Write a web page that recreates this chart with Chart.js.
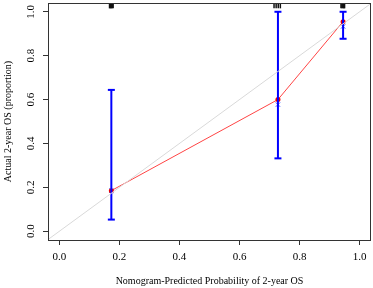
<!DOCTYPE html>
<html>
<head>
<meta charset="utf-8">
<script src="https://cdn.jsdelivr.net/npm/chart.js@4.4.0/dist/chart.umd.min.js"></script>
<style>
  html, body { margin: 0; padding: 0; background: #fff; overflow: hidden; }
  canvas { display: block; }
</style>
</head>
<body>
<canvas id="cal" width="373" height="288"></canvas>
<script>
// calibration data
const meanPredicted = [0.173, 0.728, 0.945];
const observed = [0.185, 0.600, 0.955];
const corrected = [0.185, 0.577, 0.933];
const ciLower = [0.053, 0.332, 0.877];
const ciUpper = [0.644, 1.000, 1.000];
// rug of predicted values along the top
const rugX = [0.167, 0.170, 0.173, 0.176, 0.179, 0.715, 0.722, 0.729, 0.736, 0.938, 0.941, 0.944, 0.947, 0.950];
const rugY = 1.027;
const xTickValues = [0.0, 0.2, 0.4, 0.6, 0.8, 1.0];
const yTickValues = [0.0, 0.2, 0.4, 0.6, 0.8, 1.0];

const serif = "'Liberation Serif', 'Times New Roman', serif";

const datasets = [];

// ideal line
datasets.push({
  data: [{x: -0.1, y: -0.1}, {x: 1.1, y: 1.1}],
  showLine: true,
  borderColor: '#d9d9d9',
  borderWidth: 1,
  pointRadius: 0
});

// error bars
meanPredicted.forEach((px, i) => {
  datasets.push({
    data: [{x: px, y: ciLower[i]}, {x: px, y: ciUpper[i]}],
    showLine: true,
    borderColor: '#0000ff',
    borderWidth: 2,
    pointStyle: 'line',
    pointRadius: 3.5,
    pointBorderWidth: 2,
    pointBorderColor: '#0000ff'
  });
});

// apparent calibration
datasets.push({
  data: meanPredicted.map((px, i) => ({x: px, y: observed[i]})),
  showLine: true,
  borderColor: '#ff4444',
  borderWidth: 1,
  pointRadius: 2.5,
  pointBackgroundColor: '#ee0000',
  pointBorderColor: '#ee0000',
  pointBorderWidth: 0
});

// bias corrected
datasets.push({
  data: meanPredicted.map((px, i) => ({x: px, y: corrected[i]})),
  showLine: false,
  pointStyle: 'crossRot',
  pointRadius: 3,
  pointBorderWidth: 1,
  pointBorderColor: '#3050ff'
});

// rug
datasets.push({
  data: rugX.map(v => ({x: v, y: rugY})),
  showLine: false,
  pointStyle: 'line',
  pointRotation: 90,
  pointRadius: 2.5,
  pointBorderWidth: 1.5,
  pointBorderColor: '#111'
});

const boxPlugin = {
  id: 'box',
  afterDraw(chart) {
    const a = chart.chartArea;
    const ctx = chart.ctx;
    ctx.save();
    ctx.strokeStyle = '#333';
    ctx.lineWidth = 1;
    ctx.strokeRect(Math.round(a.left) + 0.5, Math.round(a.top) + 0.5,
      Math.round(a.right - a.left) - 1, Math.round(a.bottom - a.top));
    ctx.restore();
  }
};

new Chart(document.getElementById('cal'), {
  type: 'scatter',
  data: { datasets: datasets },
  plugins: [boxPlugin],
  options: {
    responsive: false,
    animation: false,
    layout: { autoPadding: false, padding: { top: 3, right: 2, left: 0, bottom: 0 } },
    plugins: { legend: { display: false }, tooltip: { enabled: false } },
    scales: {
      x: {
        type: 'linear',
        min: -0.038,
        max: 1.038,
        afterBuildTicks: s => { s.ticks = xTickValues.map(v => ({value: v})); },
        afterFit: s => { s.height = 48; s.paddingLeft = 0; s.paddingRight = 0; },
        border: { display: false },
        grid: { drawOnChartArea: false, drawTicks: true, tickLength: 5, tickColor: '#333' },
        ticks: {
          color: '#000',
          padding: 6,
          maxRotation: 0,
          font: { family: serif, size: 11 },
          callback: v => v.toFixed(1)
        },
        title: {
          display: true,
          text: 'Nomogram-Predicted Probability of 2-year OS',
          color: '#000',
          font: { family: serif, size: 10 },
          padding: { top: 0, bottom: 1 }
        }
      },
      y: {
        type: 'linear',
        min: -0.04,
        max: 1.04,
        afterBuildTicks: s => { s.ticks = yTickValues.map(v => ({value: v})); },
        afterFit: s => { s.width = 48; s.paddingTop = 0; s.paddingBottom = 0; },
        border: { display: false },
        grid: { drawOnChartArea: false, drawTicks: true, tickLength: 5, tickColor: '#333' },
        ticks: {
          color: '#000',
          padding: 5,
          minRotation: 90,
          maxRotation: 90,
          crossAlign: 'center',
          font: { family: serif, size: 11 },
          callback: v => v.toFixed(1)
        },
        title: {
          display: true,
          text: 'Actual 2-year OS (proportion)',
          color: '#000',
          font: { family: serif, size: 10 },
          padding: { top: 2, bottom: 0 }
        }
      }
    }
  }
});
</script>
</body>
</html>
